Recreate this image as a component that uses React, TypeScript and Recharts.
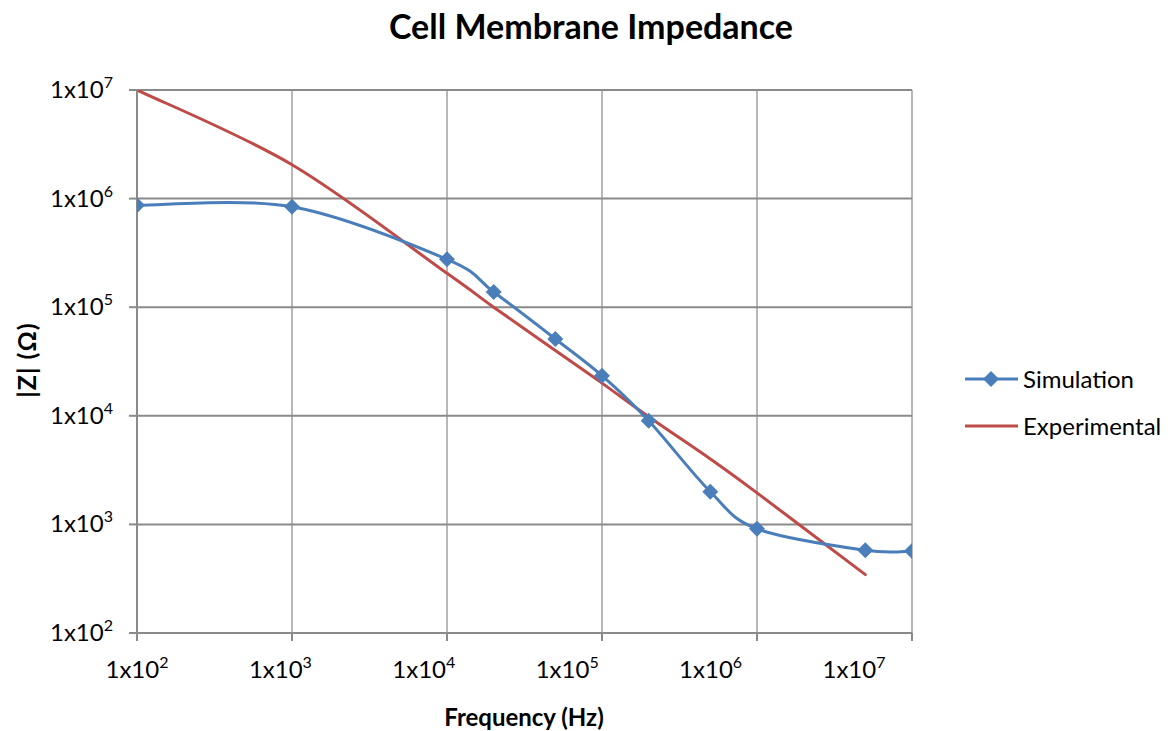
import { CartesianGrid, Legend, Line, LineChart, XAxis, YAxis } from 'recharts'

// frequency points (Hz) shared by both series
const FREQ = [1e2, 1e3, 1e4, 2e4, 5e4, 1e5, 2e5, 5e5, 1e6, 5e6, 1e7]
// |Z| in ohms
const SIMULATION = [8.7e5, 8.4e5, 2.76e5, 1.38e5, 5.1e4, 2.34e4, 9.0e3, 2.0e3, 910, 578, 568]
const EXPERIMENTAL = [1e7, 2.05e6, 2.05e5, 1.0e5, 4.0e4, 2.0e4, 9.8e3, 4.0e3, 1.95e3, 345, null]

const X_TICKS = [1e2, 1e3, 1e4, 1e5, 1e6, 1e7]
const Y_TICKS = [1e2, 1e3, 1e4, 1e5, 1e6, 1e7]

const BLUE = '#4A7EBB'
const RED = '#BE4B48'
const FONT = "Lato, 'Noto Sans', sans-serif"

const data = FREQ.map((f, i) => ({ f, sim: SIMULATION[i], exp: EXPERIMENTAL[i] }))

// Excel-style smoothed line (Catmull-Rom through the points)
function excelSmooth(context: any) {
  let pts: [number, number][] = []
  return {
    areaStart() {},
    areaEnd() {},
    lineStart() {
      pts = []
    },
    point(x: number, y: number) {
      pts.push([+x, +y])
    },
    lineEnd() {
      const n = pts.length
      if (!n) return
      context.moveTo(pts[0][0], pts[0][1])
      for (let i = 0; i < n - 1; i++) {
        const p0 = pts[Math.max(i - 1, 0)]
        const p1 = pts[i]
        const p2 = pts[i + 1]
        const p3 = pts[Math.min(i + 2, n - 1)]
        context.bezierCurveTo(
          p1[0] + (p2[0] - p0[0]) / 6,
          p1[1] + (p2[1] - p0[1]) / 6,
          p2[0] - (p3[0] - p1[0]) / 6,
          p2[1] - (p3[1] - p1[1]) / 6,
          p2[0],
          p2[1],
        )
      }
    },
  }
}

const exponent = (v: number) => Math.round(Math.log10(v))

function XTick(props: any) {
  const { x, y, payload } = props
  const idx = X_TICKS.indexOf(payload.value)
  // the original labels drift left of their gridlines
  const nudge = -11.6 * idx
  return (
    <text x={x + nudge} y={y + 27} textAnchor="middle" fill="#000" fontSize={24} fontFamily={FONT}>
      1x10
      <tspan dy={-10} fontSize={16}>
        {exponent(payload.value)}
      </tspan>
    </text>
  )
}

function YTick(props: any) {
  const { x, y, payload } = props
  return (
    <text x={x} y={y + 8} textAnchor="end" fill="#000" fontSize={24} fontFamily={FONT}>
      1x10
      <tspan dy={-10} fontSize={16}>
        {exponent(payload.value)}
      </tspan>
    </text>
  )
}

function Diamond(props: any) {
  const { cx, cy, index } = props
  if (cx == null || cy == null) return <g key={index} />
  const r = 8
  return (
    <polygon
      key={index}
      points={`${cx},${cy - r} ${cx + r},${cy} ${cx},${cy + r} ${cx - r},${cy}`}
      fill={BLUE}
    />
  )
}

const LEGEND_ITEMS = [
  { name: 'Simulation', color: BLUE, marker: true },
  { name: 'Experimental', color: RED, marker: false },
]

function LegendBox() {
  return (
    <div style={{ fontFamily: FONT, fontSize: 24, color: '#000' }}>
      {LEGEND_ITEMS.map((s) => (
        <div key={s.name} style={{ display: 'flex', alignItems: 'center', height: 47 }}>
          <svg width={56} height={20}>
            <line x1={0} y1={10} x2={53} y2={10} stroke={s.color} strokeWidth={3} />
            {s.marker && <polygon points="26,2 34,10 26,18 18,10" fill={s.color} />}
          </svg>
          <span style={{ marginLeft: 2 }}>{s.name}</span>
        </div>
      ))}
    </div>
  )
}

export default function App() {
  return (
    <div style={{ position: 'relative', width: 1166, height: 723, background: '#fff', fontFamily: FONT }}>
      <div
        style={{
          position: 'absolute',
          top: -2,
          left: 0,
          width: 1166,
          textAlign: 'center',
          fontSize: 34,
          lineHeight: '40.8px',
          fontWeight: 'bold',
        }}
      >
        Cell Membrane Impedance
      </div>
      <div
        style={{
          position: 'absolute',
          left: 18,
          top: 352,
          transform: 'translate(-50%, -50%) rotate(-90deg)',
          whiteSpace: 'nowrap',
          fontSize: 25,
          fontWeight: 'bold',
          letterSpacing: 1,
        }}
      >
        |Z| (Ω)
      </div>
      <div
        style={{
          position: 'absolute',
          left: 516,
          top: 708,
          transform: 'translate(-50%, -50%)',
          whiteSpace: 'nowrap',
          fontSize: 24,
          fontWeight: 'bold',
        }}
      >
        Frequency (Hz)
      </div>
      <LineChart width={1166} height={723} data={data} margin={{ top: 82, right: 262, left: 0, bottom: 0 }}>
        <CartesianGrid horizontal={false} stroke="#b8b8b8" strokeWidth={2} />
        <CartesianGrid vertical={false} stroke="#8a8a8a" strokeWidth={2} />
        <XAxis
          dataKey="f"
          type="number"
          scale="log"
          domain={[1e2, 1e7]}
          ticks={X_TICKS}
          allowDataOverflow
          height={98}
          tickSize={8}
          tickMargin={10}
          axisLine={{ stroke: '#8a8a8a', strokeWidth: 2 }}
          tickLine={{ stroke: '#8a8a8a', strokeWidth: 2 }}
          tick={<XTick />}
          interval={0}
        />
        <YAxis
          type="number"
          scale="log"
          domain={[1e2, 1e7]}
          ticks={Y_TICKS}
          allowDataOverflow
          width={129}
          tickSize={8}
          tickMargin={16}
          axisLine={{ stroke: '#8a8a8a', strokeWidth: 2 }}
          tickLine={{ stroke: '#8a8a8a', strokeWidth: 2 }}
          tick={<YTick />}
          interval={0}
        />
        <Legend
          layout="vertical"
          align="center"
          verticalAlign="middle"
          wrapperStyle={{ left: 957, top: 347, width: 'auto' }}
          content={() => <LegendBox />}
        />
        <Line
          dataKey="exp"
          name="Experimental"
          type={excelSmooth as any}
          stroke={RED}
          strokeWidth={3}
          strokeLinecap="round"
          dot={false}
          activeDot={false}
          isAnimationActive={false}
        />
        <Line
          dataKey="sim"
          name="Simulation"
          type={excelSmooth as any}
          stroke={BLUE}
          strokeWidth={3}
          dot={(p: any) => <Diamond key={p.index} {...p} />}
          activeDot={false}
          isAnimationActive={false}
        />
      </LineChart>
    </div>
  )
}
